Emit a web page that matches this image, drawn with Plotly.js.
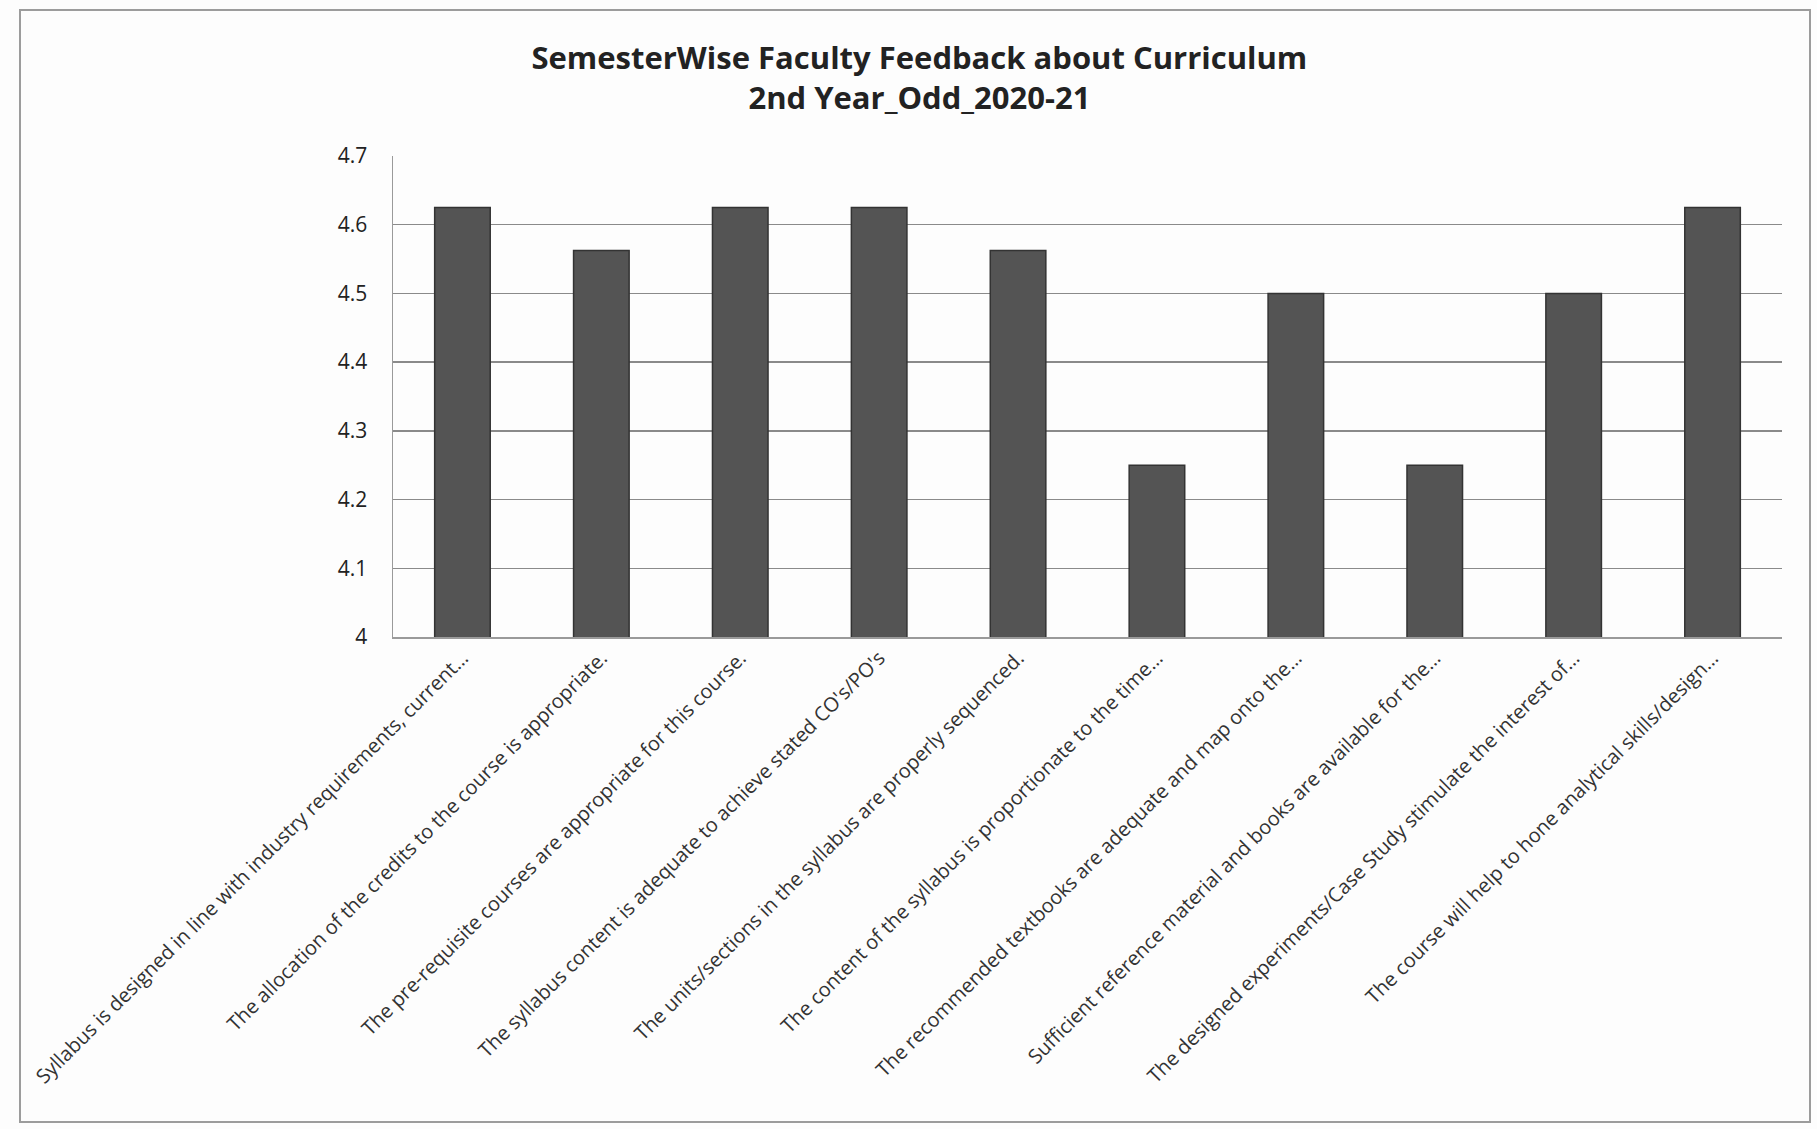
<!DOCTYPE html>
<html>
<head>
<meta charset="utf-8">
<script src="https://cdn.plot.ly/plotly-3.0.1.min.js"></script>
<style>
html,body{margin:0;padding:0;background:#fdfdfd;}
#chart{width:1817px;height:1129px;}
</style>
</head>
<body>
<div id="chart"></div>
<script>
const categories = [
  "Syllabus is designed in line with industry requirements, current…",
  "The allocation of the credits to the course is appropriate.",
  "The pre-requisite courses are appropriate for this course.",
  "The syllabus content is adequate to achieve stated CO's/PO's",
  "The units/sections in the syllabus are properly sequenced.",
  "The content of the syllabus is proportionate to the time…",
  "The recommended textbooks are adequate and map onto the…",
  "Sufficient reference material and books are available for the…",
  "The designed experiments/Case Study stimulate the interest of…",
  "The course will help to hone analytical skills/design…"
];
const scores = [4.625, 4.5625, 4.625, 4.625, 4.5625, 4.25, 4.5, 4.25, 4.5, 4.625];
const yTicks = [4, 4.1, 4.2, 4.3, 4.4, 4.5, 4.6, 4.7];
const yTickText = ["4", "4.1", "4.2", "4.3", "4.4", "4.5", "4.6", "4.7"];
const titleLine1 = "SemesterWise Faculty Feedback about Curriculum";
const titleLine2 = "2nd Year_Odd_2020-21";

const FONT = "Open Sans, Noto Sans, Liberation Sans, sans-serif";

const trace = {
  type: "bar",
  x: categories,
  y: scores,
  marker: { color: "#545454", line: { color: "#333333", width: 1.5 } },
  hoverinfo: "x+y"
};

// plot area in pixels: left 393, right 1782, top 156, bottom 637
const L = 393, R = 1782, T = 156, B = 637;
const W = R - L, H = B - T;
function px(x){ return (x - L) / W; }
function py(y){ return (B - y) / H; }

const layout = {
  width: 1817,
  height: 1129,
  margin: { l: L, r: 1817 - R, t: T, b: 1129 - B, pad: 0 },
  paper_bgcolor: "#fdfdfd",
  plot_bgcolor: "#fdfdfd",
  showlegend: false,
  bargap: 0.6,
  title: {
    text: titleLine1 + "<br>" + titleLine2,
    x: 0.506, xref: "container", xanchor: "center",
    y: 1 - 69 / 1129, yref: "container", yanchor: "top",
    font: { family: FONT, size: 31, color: "#222222", weight: 700 }
  },
  xaxis: {
    type: "category",
    tickangle: -45,
    tickfont: { family: FONT, size: 20, color: "#333333" },
    showline: true, linecolor: "#9a9a9a", linewidth: 1.5,
    showgrid: false, ticks: "",
    automargin: false
  },
  yaxis: {
    range: [4, 4.7],
    tickvals: yTicks,
    ticktext: yTickText,
    tickfont: { family: FONT, size: 21, color: "#222222" },
    ticklabelstandoff: 20,
    showgrid: true, gridcolor: "#8a8a8a", gridwidth: 1.5,
    showline: true, linecolor: "#9a9a9a", linewidth: 1.5,
    zeroline: false, ticks: "",
    automargin: false
  },
  shapes: [
    {
      type: "rect", xref: "paper", yref: "paper", layer: "below",
      x0: px(20), x1: px(1810), y0: py(1122), y1: py(10),
      line: { color: "#9c9c9c", width: 2 }, fillcolor: "rgba(0,0,0,0)"
    }
  ]
};

Plotly.newPlot("chart", [trace], layout, { displayModeBar: false, staticPlot: true });
</script>
</body>
</html>
